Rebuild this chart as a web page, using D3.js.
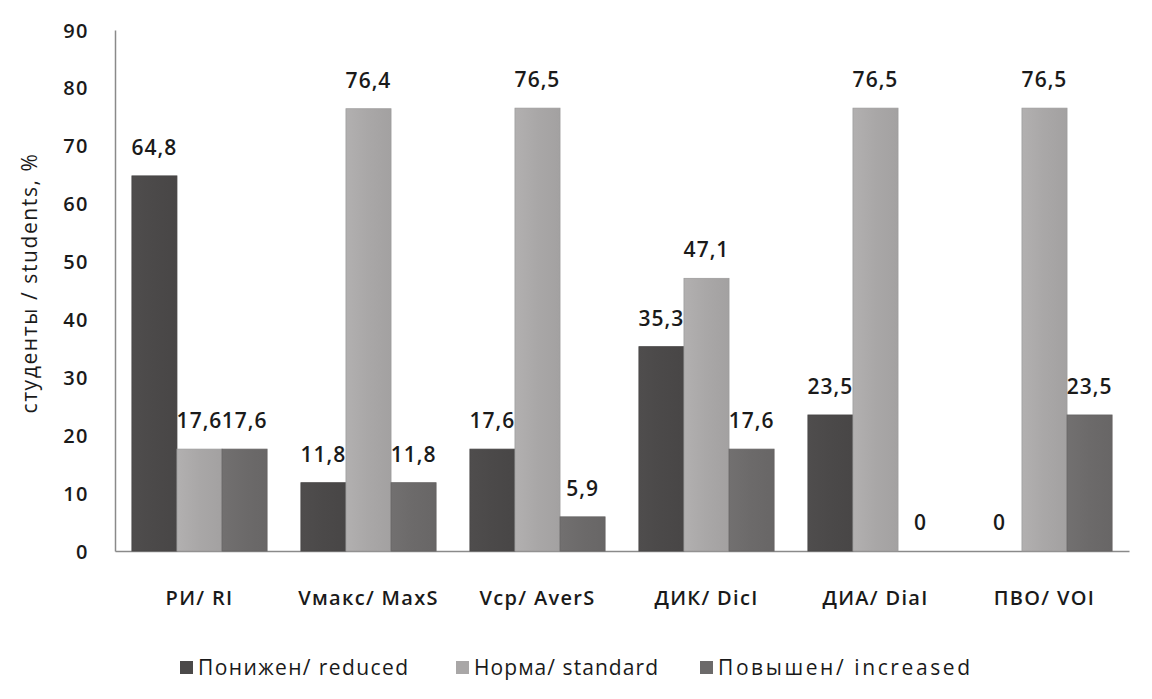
<!DOCTYPE html>
<html>
<head>
<meta charset="utf-8">
<script src="https://cdn.jsdelivr.net/npm/d3@7"></script>
<style>
  body { margin: 0; background: #fff; }
  text { font-family: "Open Sans", "DejaVu Sans", sans-serif; fill: #1a1a1a; }
</style>
</head>
<body>
<svg id="chart" width="1152" height="699"></svg>
<script>
// Categories and series values.
const categories = ["РИ/ RI", "Vмакс/ MaxS", "Vср/ AverS", "ДИК/ DicI", "ДИА/ DiaI", "ПВО/ VOI"];
const seriesNames = ["Понижен/ reduced", "Норма/ standard", "Повышен/ increased"];
const reduced   = [64.8, 11.8, 17.6, 35.3, 23.5, 0];
const standard  = [17.6, 76.4, 76.5, 47.1, 76.5, 76.5];
const increased = [17.6, 11.8, 5.9, 17.6, 0, 23.5];
const yTicks = [0, 10, 20, 30, 40, 50, 60, 70, 80, 90];

const colors = ["#4b4949", "#a9a7a7", "#6c6a6a"];

let svg = d3.select("#chart");

const plot = {left: 115, right: 1129, top: 30, bottom: 551};

let x = d3.scaleBand().domain(categories).range([plot.left, plot.right]).paddingInner(0.2).paddingOuter(0.1);
let inner = d3.scaleBand().domain(seriesNames).range([0, x.bandwidth()]);
let y = d3.scaleLinear().domain([0, 90]).range([plot.bottom, plot.top]);

// Gradients, one per series (bars look a little lighter at the edges).
let defs = svg.append("defs");
colors.forEach((c, i) => {
	let g = defs.append("linearGradient").attr("id", "g" + i)
	  .attr("x1", 0).attr("x2", 1).attr("y1", 0).attr("y2", 0);
	g.append("stop").attr("offset", "0%").attr("stop-color", d3.color(c).brighter(0.15));
	g.append("stop").attr("offset", "50%").attr("stop-color", c);
	g.append("stop").attr("offset", "100%").attr("stop-color", d3.color(c).darker(0.1));
});

// Axes.
let yAxis = svg.append("g")
  .attr("transform", `translate(${plot.left},0)`)
  .call(d3.axisLeft(y).tickValues(yTicks).tickSize(0).tickPadding(26));
yAxis.select(".domain").attr("stroke", "#8a8a8a").attr("stroke-width", 1.5);
yAxis.selectAll("text").attr("font-size", 20).attr("font-weight", 600)
  .attr("letter-spacing", 1.5).attr("dy", "0.35em");

let xAxis = svg.append("g")
  .attr("transform", `translate(0,${plot.bottom})`)
  .call(d3.axisBottom(x).tickSize(0).tickPadding(40));
xAxis.select(".domain").attr("stroke", "#8a8a8a").attr("stroke-width", 1.5);
xAxis.selectAll("text").attr("font-size", 20).attr("font-weight", 600).attr("letter-spacing", 1.3);

// Bars.
const rows = categories.map((c, i) => ({cat: c, vals: [reduced[i], standard[i], increased[i]]}));

let groups = svg.append("g").selectAll("g")
  .data(rows)
  .enter()
  .append("g")
	.attr("transform", d => `translate(${x(d.cat)},0)`);

groups.selectAll("rect")
  .data(d => d.vals.map((v, j) => ({v: v, s: seriesNames[j], j: j})))
  .enter()
  .append("rect")
	.attr("x", d => inner(d.s))
	.attr("width", inner.bandwidth())
	.attr("y", d => y(d.v))
	.attr("height", d => y(0) - y(d.v))
	.attr("fill", d => `url(#g${d.j})`)
	.attr("stroke", d => d3.color(colors[d.j]).darker(0.2))
	.attr("stroke-width", d => d.v > 0 ? 0.8 : 0);

// Value labels.
groups.selectAll("text.val")
  .data(d => d.vals.map((v, j) => ({v: v, s: seriesNames[j]})))
  .enter()
  .append("text")
	.attr("class", "val")
	.attr("x", d => inner(d.s) + inner.bandwidth() / 2)
	.attr("y", d => y(d.v) - 21)
	.attr("text-anchor", "middle")
	.attr("font-size", 21)
	.attr("font-weight", 600)
	.attr("letter-spacing", 1)
	.text(d => String(d.v).replace(".", ","));

// Y axis title.
svg.append("text")
  .attr("transform", `translate(37,283) rotate(-90)`)
  .attr("text-anchor", "middle")
  .attr("font-size", 21)
  .attr("letter-spacing", 1.6)
  .text("студенты / students, %");

// Legend.
const legendX = [180, 456, 700];
const legendW = [210, 184, 252];
let legend = svg.append("g").selectAll("g")
  .data(seriesNames)
  .enter()
  .append("g")
	.attr("transform", (d, i) => `translate(${legendX[i]},668)`);
legend.append("rect")
  .attr("x", 0).attr("y", -7).attr("width", 13).attr("height", 13)
  .attr("fill", (d, i) => colors[i]);
legend.append("text")
  .attr("x", 18).attr("dy", "0.35em")
  .attr("font-size", 21)
  .attr("textLength", (d, i) => legendW[i])
  .attr("lengthAdjust", "spacing")
  .text(d => d);
</script>
</body>
</html>
